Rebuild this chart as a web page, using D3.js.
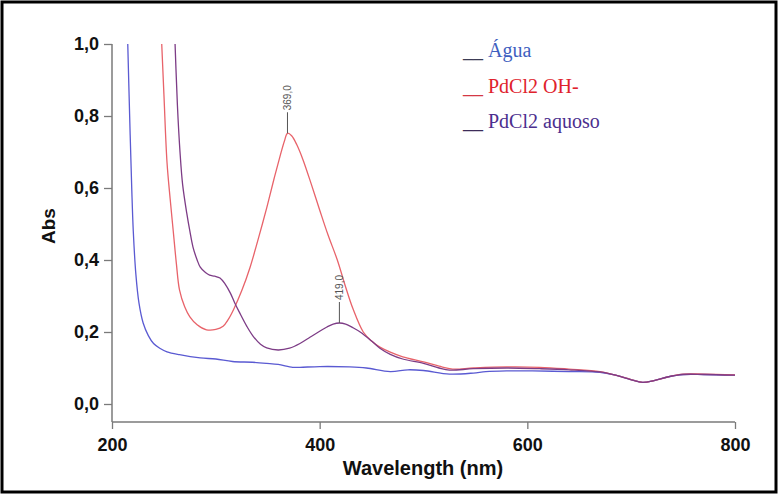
<!DOCTYPE html>
<html>
<head>
<meta charset="utf-8">
<script src="https://cdn.jsdelivr.net/npm/d3@7"></script>
<style>
  html, body { margin: 0; padding: 0; background: #fff; }
  svg { display: block; }
</style>
</head>
<body>
<svg id="chart" width="779" height="495"></svg>
<script>
// ---- data ----
const xTicks = [200, 400, 600, 800];
const yTicks = [0.0, 0.2, 0.4, 0.6, 0.8, 1.0];
const seriesNames = ["Água", "PdCl2 OH-", "PdCl2 aquoso"];

const aguaNm = [215, 217, 219, 220.5, 223, 226, 230, 235, 240, 246, 253, 265, 285, 300, 316, 335, 349, 360, 374, 381, 400, 429, 445, 468, 485, 500, 525, 548, 560, 580, 605, 640, 670, 685, 700, 711, 722, 735, 750, 770, 800];
const aguaAbs = [1.02, 0.8, 0.6, 0.48, 0.36, 0.28, 0.225, 0.19, 0.168, 0.155, 0.145, 0.137, 0.128, 0.125, 0.118, 0.116, 0.113, 0.11, 0.102, 0.102, 0.104, 0.103, 0.1, 0.09, 0.095, 0.093, 0.083, 0.086, 0.09, 0.092, 0.092, 0.09, 0.088, 0.08, 0.068, 0.06, 0.065, 0.075, 0.082, 0.082, 0.08];

const ohNm = [247, 250, 253, 256, 259, 262, 265, 270, 275, 282, 291, 300, 307, 312, 317, 325, 333, 341, 349, 356, 362, 366, 369, 373, 378, 384, 392, 400, 408, 417, 425, 432, 442, 450, 458, 468, 480, 500, 515, 528, 548, 580, 612, 640, 670, 685, 700, 711, 722, 735, 750, 770, 800];
const ohAbs = [1.06, 0.86, 0.67, 0.57, 0.48, 0.39, 0.317, 0.27, 0.242, 0.22, 0.206, 0.207, 0.216, 0.235, 0.262, 0.315, 0.38, 0.46, 0.545, 0.625, 0.69, 0.73, 0.752, 0.745, 0.72, 0.678, 0.61, 0.539, 0.47, 0.4, 0.325, 0.265, 0.2, 0.175, 0.158, 0.144, 0.131, 0.117, 0.105, 0.097, 0.1, 0.103, 0.102, 0.097, 0.09, 0.08, 0.068, 0.06, 0.065, 0.075, 0.083, 0.083, 0.081];

const aqNm = [260, 263, 265.5, 268, 272, 275, 278, 282, 285, 290, 294, 299, 304, 309, 314, 318, 323, 330, 336, 343, 349, 360, 371, 381, 391, 400, 407, 413, 419, 425, 432, 439, 450, 458, 468, 480, 500, 515, 525, 548, 580, 612, 640, 670, 685, 700, 711, 722, 735, 750, 770, 800];
const aqAbs = [1.06, 0.83, 0.7, 0.61, 0.53, 0.48, 0.436, 0.4, 0.38, 0.365, 0.358, 0.355, 0.35, 0.333, 0.308, 0.282, 0.253, 0.215, 0.188, 0.166, 0.156, 0.15, 0.155, 0.168, 0.186, 0.202, 0.214, 0.222, 0.225, 0.222, 0.212, 0.2, 0.175, 0.155, 0.138, 0.125, 0.113, 0.1, 0.094, 0.098, 0.1, 0.098, 0.095, 0.089, 0.08, 0.067, 0.06, 0.065, 0.075, 0.082, 0.082, 0.08];

const peakNm = [369, 419];
const peakAbs = [0.752, 0.225];
const peakLabels = ["369,0", "419,0"];

const lineColors = ["#5a5ad2", "#e8636a", "#7d3c86"];
const textColors = ["#3f5fc0", "#e0222c", "#4b2e8e"];
const dashColors = ["#3c3c55", "#d43844", "#3c2c58"];

// ---- layout ----
const svg = d3.select("#chart");
const x = d3.scaleLinear().domain([200, 800]).range([112, 735]);
const y = d3.scaleLinear().domain([-0.05, 1.0]).range([422, 44]);

// outer frame
svg.append("rect").attr("x", 2).attr("y", 2).attr("width", 774).attr("height", 490)
  .attr("fill", "#fff").attr("stroke", "#000").attr("stroke-width", 3);

svg.append("defs").append("clipPath").attr("id", "plotclip")
  .append("rect").attr("x", 112).attr("y", 44).attr("width", 623).attr("height", 378);

// axes
const axisColor = "#7a7a7a";
const gx = svg.append("g").attr("transform", "translate(0,422)")
  .call(d3.axisBottom(x).tickValues(xTicks).tickSize(7).tickPadding(9).tickFormat(d3.format("d")));
const gy = svg.append("g").attr("transform", "translate(112,0)")
  .call(d3.axisLeft(y).tickValues(yTicks).tickSize(8).tickPadding(5).tickFormat(d => d3.format(".1f")(d).replace(".", ",")));
[gx, gy].forEach(g => {
  g.select(".domain").attr("stroke", axisColor).attr("stroke-width", 1.5);
  g.selectAll(".tick line").attr("stroke", axisColor).attr("stroke-width", 1.3);
  g.selectAll(".tick text").attr("fill", "#111").attr("font-family", "Liberation Sans, Arial, sans-serif")
    .attr("font-weight", "bold").attr("font-size", 18);
});
gy.select(".domain").attr("d", "M0,44V422");
gx.select(".domain").attr("d", "M112,0H735");

// axis titles
svg.append("text").attr("x", 423).attr("y", 475).attr("text-anchor", "middle")
  .attr("font-family", "Liberation Sans, Arial, sans-serif").attr("font-weight", "bold")
  .attr("font-size", 20).attr("fill", "#111").text("Wavelength (nm)");
svg.append("text").attr("transform", "translate(55,226) rotate(-90)").attr("text-anchor", "middle")
  .attr("font-family", "Liberation Sans, Arial, sans-serif").attr("font-weight", "bold")
  .attr("font-size", 19).attr("fill", "#111").text("Abs");

// curves
const series = [
  aguaNm.map((d, i) => [d, aguaAbs[i]]),
  ohNm.map((d, i) => [d, ohAbs[i]]),
  aqNm.map((d, i) => [d, aqAbs[i]])
];
const line = d3.line().x(d => x(d[0])).y(d => y(d[1])).curve(d3.curveCatmullRom.alpha(0.5));
const plot = svg.append("g").attr("clip-path", "url(#plotclip)");
series.forEach((s, i) => {
  plot.append("path").datum(s).attr("d", line).attr("fill", "none")
    .attr("stroke", lineColors[i]).attr("stroke-width", 1.3);
});

// peak annotations
peakNm.forEach((p, i) => {
  const px = x(p), py = y(peakAbs[i]);
  svg.append("line").attr("x1", px).attr("x2", px).attr("y1", py).attr("y2", py - 21)
    .attr("stroke", "#555").attr("stroke-width", 1);
  svg.append("text").attr("transform", `translate(${px},${py - 23}) rotate(-90)`)
    .attr("dominant-baseline", "central").attr("text-anchor", "start")
    .attr("font-family", "Liberation Sans, Arial, sans-serif").attr("font-size", 10)
    .attr("fill", "#555").text(peakLabels[i]);
});

// legend
const lg = svg.append("g").attr("font-family", "Liberation Serif, Times New Roman, serif").attr("font-size", 20);
seriesNames.forEach((name, i) => {
  const t = lg.append("text").attr("x", 463).attr("y", 57 + i * 35.5);
  t.append("tspan").attr("fill", dashColors[i]).text("__ ");
  t.append("tspan").attr("fill", textColors[i]).text(name);
});
</script>
</body>
</html>
